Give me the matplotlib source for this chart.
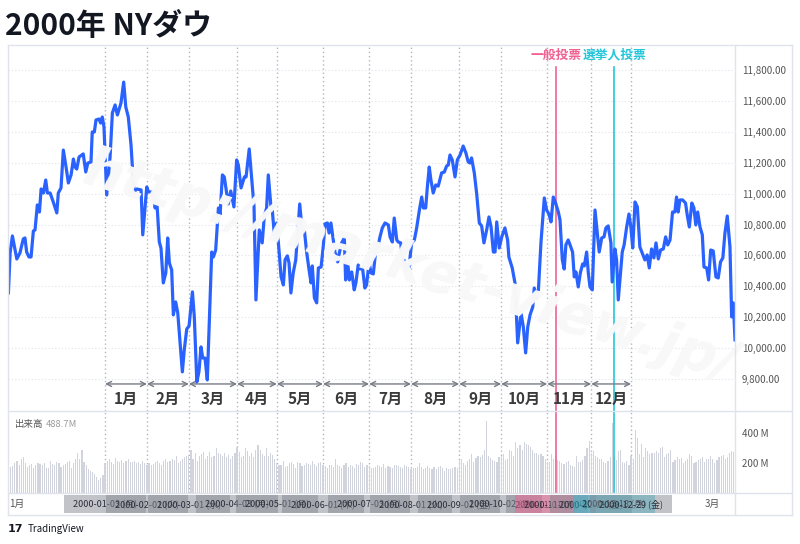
import numpy as np
import matplotlib.pyplot as plt
from matplotlib.lines import Line2D
from matplotlib.patches import Rectangle

plt.rcParams['font.family'] = ['Noto Sans CJK JP', 'DejaVu Sans']

# ---- data (x = trading session, 0 = 2000-01-03) ----
price_s = [-46.1, -45.3, -44.2, -42.1, -40.6, -39.0, -38.2, -37.4, -36.3, -35.3,
           -34.2, -33.4, -32.3, -31.3, -30.5, -29.4, -28.3, -27.5, -26.2, -24.7,
           -23.0, -22.3, -21.0, -19.9, -18.6, -17.5, -16.2, -15.1, -14.3, -13.5,
           -12.4, -10.4, -9.2, -8.2, -6.7, -6.1, -5.1, -4.3, -2.9, -2.1,
           -1.3, -0.5, 0.8, 2.4, 3.5, 4.8, 5.9, 7.6, 8.9, 9.9,
           11.1, 12.4, 13.8, 15.1, 17.2, 18.0, 19.9, 20.7, 22.3, 23.4,
           23.9, 24.7, 25.9, 26.7, 27.8, 29.0, 29.9, 30.7, 31.8, 32.6,
           33.7, 34.7, 35.8, 36.9, 37.8, 39.0, 40.1, 41.7, 42.6, 43.8,
           44.8, 45.8, 46.6, 47.7, 48.8, 50.9, 51.7, 52.8, 54.1, 54.9,
           56.0, 56.9, 58.8, 60.0, 61.5, 62.8, 63.6, 64.9, 66.5, 67.3,
           68.8, 71.1, 72.0, 73.6, 75.0, 76.0, 77.1, 77.9, 79.1, 79.8,
           80.8, 81.9, 83.0, 84.0, 85.1, 85.9, 87.0, 87.8, 88.7, 89.8,
           91.0, 91.9, 92.9, 94.0, 95.1, 96.2, 97.3, 98.3, 98.9, 99.9,
           101.0, 101.8, 103.1, 104.1, 105.0, 106.1, 106.9, 107.8, 108.9, 109.7,
           111.0, 111.8, 112.9, 114.2, 114.8, 115.8, 116.6, 117.7, 118.9, 119.7,
           120.8, 121.7, 122.8, 124.0, 124.8, 126.0, 126.9, 128.0, 129.2, 130.1,
           131.2, 132.3, 133.6, 135.2, 136.0, 137.1, 138.0, 139.2, 139.9, 141.1,
           141.8, 142.7, 143.9, 145.0, 146.3, 147.6, 148.7, 150.0, 151.1, 151.9,
           153.0, 153.8, 154.7, 155.5, 156.6, 157.8, 159.0, 160.6, 161.9, 163.0,
           163.8, 164.6, 165.7, 167.0, 168.1, 169.4, 170.9, 172.2, 173.3, 174.1,
           174.9, 176.2, 177.3, 178.6, 179.7, 180.8, 182.1, 183.2, 184.2, 185.3,
           186.1, 186.9, 188.1, 189.3, 190.8, 192.1, 192.7, 194.3, 195.6, 196.9,
           198.5, 199.6, 200.7, 201.7, 202.8, 204.1, 204.8, 206.0, 206.8, 208.0,
           209.6, 210.7, 211.8, 212.8, 213.9, 215.0, 216.3, 217.1, 218.2, 219.1,
           219.9, 221.0, 221.9, 223.1, 223.9, 224.7, 225.8, 226.8, 227.9, 228.7,
           229.8, 230.6, 231.4, 232.5, 233.8, 234.9, 235.8, 237.0, 238.1, 239.0,
           240.1, 241.4, 242.0, 243.3, 244.1, 244.9, 246.0, 246.8, 247.7, 248.9,
           250.0, 250.9, 251.8, 252.9, 254.0, 255.2, 256.3, 257.6, 258.7, 259.7,
           260.8, 261.9, 262.9, 264.0, 265.1, 266.4, 267.5, 268.5, 269.6, 270.8,
           271.9, 272.7, 273.5, 274.3, 275.6, 277.0, 277.8, 278.8, 280.0, 281.0,
           281.9, 282.8, 283.9, 285.0, 285.8, 287.1, 288.0, 289.0, 290.2, 291.5,
           292.6, 293.7, 294.8, 295.8, 296.9, 298.2, 299.0, 299.8, 300.6]
price_v = [10357, 10616, 10726, 10577, 10616, 10707, 10713, 10622, 10590, 10590,
           10758, 10765, 10927, 10881, 11030, 11004, 11088, 11004, 11004, 10946,
           10875, 11004, 11037, 11282, 11172, 11069, 11121, 11224, 11172, 11159,
           11237, 11257, 11140, 11198, 11205, 11399, 11399, 11477, 11483, 11457,
           11496, 11431, 10991, 11237, 11522, 11574, 11509, 11586, 11722, 11561,
           11496, 11315, 11011, 11030, 11024, 10733, 11043, 11011, 11011, 10959,
           10907, 10952, 10687, 10648, 10422, 10487, 10713, 10551, 10506, 10215,
           10299, 10228, 10034, 9846, 9988, 10124, 10144, 10364, 10202, 9781,
           9846, 10008, 9936, 9936, 9794, 10622, 10590, 10635, 10907, 10862,
           11121, 11108, 10933, 11017, 10914, 11218, 11185, 11037, 11108, 11108,
           11289, 10914, 10312, 10765, 10681, 10855, 10907, 11121, 10927, 10894,
           10733, 10810, 10635, 10461, 10409, 10571, 10597, 10551, 10357, 10487,
           10571, 10745, 10933, 10771, 10765, 10622, 10512, 10422, 10532, 10325,
           10293, 10519, 10525, 10655, 10804, 10810, 10745, 10810, 10700, 10622,
           10558, 10616, 10681, 10713, 10441, 10551, 10441, 10493, 10377, 10422,
           10538, 10512, 10525, 10389, 10409, 10558, 10487, 10480, 10635, 10648,
           10720, 10778, 10810, 10797, 10720, 10687, 10842, 10700, 10687, 10681,
           10571, 10571, 10506, 10519, 10681, 10700, 10778, 10894, 10978, 10907,
           10907, 11043, 11172, 11088, 11004, 11056, 11049, 11134, 11140, 11179,
           11185, 11250, 11218, 11108, 11218, 11250, 11308, 11263, 11205, 11198,
           11231, 11134, 11004, 10810, 10791, 10681, 10765, 10849, 10784, 10622,
           10622, 10817, 10648, 10720, 10778, 10700, 10590, 10519, 10422, 10034,
           10228, 10137, 9969, 10137, 10215, 10267, 10389, 10325, 10377, 10681,
           10972, 10894, 10868, 10817, 10978, 10939, 10881, 10830, 10571, 10512,
           10668, 10700, 10668, 10622, 10461, 10493, 10396, 10487, 10545, 10532,
           10622, 10487, 10396, 10377, 10894, 10745, 10622, 10713, 10720, 10778,
           10791, 10681, 10428, 10642, 10571, 10312, 10493, 10622, 10668, 10784,
           10868, 10784, 10648, 10946, 10914, 10655, 10616, 10571, 10603, 10519,
           10642, 10584, 10681, 10577, 10635, 10642, 10720, 10668, 10700, 10881,
           10881, 10978, 10881, 10959, 10959, 10939, 10862, 10784, 10939, 10907,
           10797, 10881, 10784, 10733, 10525, 10519, 10441, 10635, 10629, 10461,
           10454, 10558, 10584, 10745, 10855, 10655, 10202, 10293, 10053]

vol_start = -46   # first volume session
volume = [190, 175, 180, 200, 215, 185, 230, 240, 200, 175, 190, 195, 165, 190, 200, 195,
          185, 200, 170, 165, 215, 195, 190, 210, 200, 175, 185, 195, 205, 215, 170, 200,
          225, 270, 230, 290, 205, 185, 160, 150, 140, 130, 110, 90, 100, 120,
          200, 215, 230, 210, 195, 235, 215, 210, 220, 200, 215, 225, 210, 205, 215, 200,
          210, 195, 215, 200,
          190, 200, 185, 195, 210, 215, 200, 190, 215, 230, 205, 215, 225, 220, 245, 200,
          215, 230, 240, 250,
          255, 290, 230, 270, 215, 245, 260, 275, 225, 250, 275, 240, 250, 300, 270, 260,
          245, 265, 240, 255, 230, 250, 270,
          310, 275, 240, 250, 300, 280, 245, 270, 240, 285, 320, 290, 260, 250, 300, 245,
          270, 255, 225,
          200, 185, 190, 215, 175, 180, 200, 205, 195, 170, 210, 200, 180, 190, 200, 195,
          185, 215, 195, 180, 200, 205,
          190, 180, 170, 190, 185, 175, 225, 190, 180, 170, 185, 200, 175, 190, 180, 170,
          195, 185, 210, 200, 175, 190,
          180, 170, 165, 175, 190, 180, 175, 195, 170, 180, 175, 170, 185, 190, 180, 175,
          170, 185, 180, 175,
          160, 170, 165, 175, 200, 175, 160, 165, 180, 170, 160, 175, 160, 175, 180, 170,
          150, 165, 160, 160, 165, 175, 170,
          220, 230, 200, 185, 215, 225, 260, 205, 235, 250, 240, 255, 290, 480, 250, 235,
          220, 215, 205, 240,
          250, 260, 220, 230, 290, 280, 250, 340, 300, 320, 290, 340, 330, 320, 310, 290,
          270, 265, 255, 260, 250, 230,
          210, 205, 260, 230, 245, 220, 215, 200, 195, 210, 215, 190, 180, 175, 250, 210,
          205, 220, 250, 300, 350,
          265, 280, 250, 240, 225, 225, 210, 200, 215, 240, 470, 250, 220, 280, 290, 210,
          200, 215, 190,
          250, 230, 420, 370, 260, 330, 240, 300, 280, 260, 270, 265, 280, 270, 300, 310,
          240, 260, 270, 290,
          210, 220, 240, 230, 235, 200, 215, 230, 260, 250, 200, 210, 220, 230, 240, 205,
          225, 230, 250, 230, 200, 220, 240, 250, 255, 225, 240, 270, 280, 275]

month_s = [0, 20, 40, 63, 82, 104, 126, 146, 169, 189, 211, 232, 251]
month_lbl = ['1月', '2月', '3月', '4月', '5月', '6月', '7月', '8月', '9月', '10月', '11月', '12月']
line_date = ['2000-01-03 (月)', '2000-02-01 (火)', '2000-03-01 (水)', '2000-04-03 (月)',
             '2000-05-01 (月)', '2000-06-01 (木)', '2000-07-03 (月)', '2000-08-01 (火)',
             '2000-09-01 (金)', '2000-10-02 (月)', '2000-11-01 (水)', '2000-12-01 (金)',
             '2000-12-29 (金)']

event_s = [215, 243]
event_name = ['一般投票', '選挙人投票']
event_date = ['2000-11-07 (火)', '2000-12-18 (月)']
event_col = ['#f06292', '#26c6da']

price_ticks = [9800, 10000, 10200, 10400, 10600, 10800, 11000, 11200, 11400, 11600, 11800]
vol_ticks = [200, 400]

# ---- layout (pixel helpers) ----
W, H = 800, 544
def fx(px): return px / W
def fy(py): return 1 - py / H

XL = (-46.3, 300.6)
GRID = '#e0e3eb'

fig = plt.figure(figsize=(W / 100, H / 100), dpi=100)
fig.patch.set_facecolor('white')

# watermark (rat nhat)
fig.text(fx(410), fy(268), 'http://market-view.jp/', rotation=-17, fontsize=40,
         fontweight='bold', fontstyle='italic', color='#f8f8f8',
         ha='center', va='center', family='DejaVu Sans', zorder=0)

ax = fig.add_axes([fx(8), fy(411), fx(735) - fx(8), fy(45) - fy(411)])
vax = fig.add_axes([fx(8), fy(493), fx(735) - fx(8), fy(411) - fy(493)])
tax = fig.add_axes([fx(8), fy(515), fx(735) - fx(8), fy(493) - fy(515)])

for a in (ax, vax, tax):
    a.set_facecolor('none')
    a.set_xlim(*XL)
    for sp in a.spines.values():
        sp.set_visible(False)
    a.set_xticks([])

# ---- price pane ----
ax.set_ylim(9593, 11962)
ax.yaxis.tick_right()
ax.set_yticks(price_ticks)
ax.set_yticklabels([f'{v:,.2f}' for v in price_ticks])
ax.tick_params(axis='y', length=0, pad=5, labelsize=7, labelcolor='#555555')
for v in price_ticks:
    ax.axhline(v, color=GRID, lw=0.8, ls=(0, (1, 2)), zorder=1)
for s in month_s:
    ax.axvline(s, color='#b2b5be', lw=1, ls=(0, (1, 2)), zorder=1)
    vax.axvline(s, color='#b2b5be', lw=1, ls=(0, (1, 2)), zorder=1)

ax.plot(price_s, price_v, color='#2962ff', lw=2.3, solid_joinstyle='round', zorder=5)

# month arrows
for i in range(12):
    ax.annotate('', xy=(month_s[i + 1], 9768), xytext=(month_s[i], 9768),
                arrowprops=dict(arrowstyle='<->', color='#787b86', lw=1,
                                shrinkA=0, shrinkB=0, mutation_scale=9), zorder=4)
    ax.text((month_s[i] + month_s[i + 1]) / 2, 9672, month_lbl[i], ha='center', va='center',
            fontsize=11, fontweight='bold', color='#3a3a3a', zorder=4)

# election lines
for s, name, c in zip(event_s, event_name, event_col):
    ax.plot([s, s], [9593, 11822], color=c, lw=1.2, zorder=3)
    vax.axvline(s, color=c, lw=1.2, zorder=3)
    ax.text(s, 11897, name, ha='center', va='center', fontsize=9.2,
            fontweight='bold', color=c, zorder=6)

# ---- volume pane ----
vsess = vol_start + np.arange(len(volume))
vax.bar(vsess, volume, width=0.55, color='#d1d4dc', zorder=2)
vax.set_ylim(0, 547)
vax.yaxis.tick_right()
vax.set_yticks(vol_ticks)
vax.set_yticklabels([f'{v} M' for v in vol_ticks])
vax.tick_params(axis='y', length=0, pad=5, labelsize=7, labelcolor='#555555')
vax.text(0.0096, 0.84, '出来高', transform=vax.transAxes, fontsize=6.8,
         color='#555555', va='center')
vax.text(0.052, 0.84, '488.7M', transform=vax.transAxes, fontsize=6.8,
         color='#9a9a9a', va='center')

# ---- time axis ----
tax.set_ylim(0, 1)
tax.set_yticks([])
tax.text(-42, 0.5, '1月', ha='center', va='center', fontsize=7, color='#555555')
tax.text(290, 0.5, '3月', ha='center', va='center', fontsize=7, color='#555555')

boxes = [(s, d, '#868993') for s, d in zip(month_s, line_date)]
boxes += [(s, d, c) for s, d, c in zip(event_s, event_date, event_col)]
boxes.sort(key=lambda b: b[0])
for k, (s, d, c) in enumerate(boxes):
    tax.add_patch(Rectangle((s - 19.5, 0.09), 39, 0.82, fc=c, ec='none',
                            alpha=0.5, zorder=3 + k))
    tax.text(s, 0.48, d, ha='center', va='center', fontsize=6.5, color='#2a2e39',
             zorder=3.5 + k)

# ---- frame ----
for (x0, y0, x1, y1) in [(8, 45, 792, 45), (8, 515, 792, 515), (8, 45, 8, 515),
                         (792, 45, 792, 515), (735, 45, 735, 515),
                         (8, 411, 792, 411), (8, 493, 792, 493)]:
    fig.add_artist(Line2D([fx(x0), fx(x1)], [fy(y0), fy(y1)], color=GRID, lw=1))

# ---- title / logo ----
fig.text(fx(5), fy(26), '2000年 NYダウ', fontsize=21.5, fontweight='bold',
         color='#131722', va='center', ha='left')
fig.text(fx(8), fy(529), '17', fontsize=8, fontweight='bold', color='#131722',
         va='center', family='DejaVu Sans')
fig.text(fx(28), fy(529), 'TradingView', fontsize=7, color='#131722', va='center')

fig.savefig('out.png', dpi=100)
